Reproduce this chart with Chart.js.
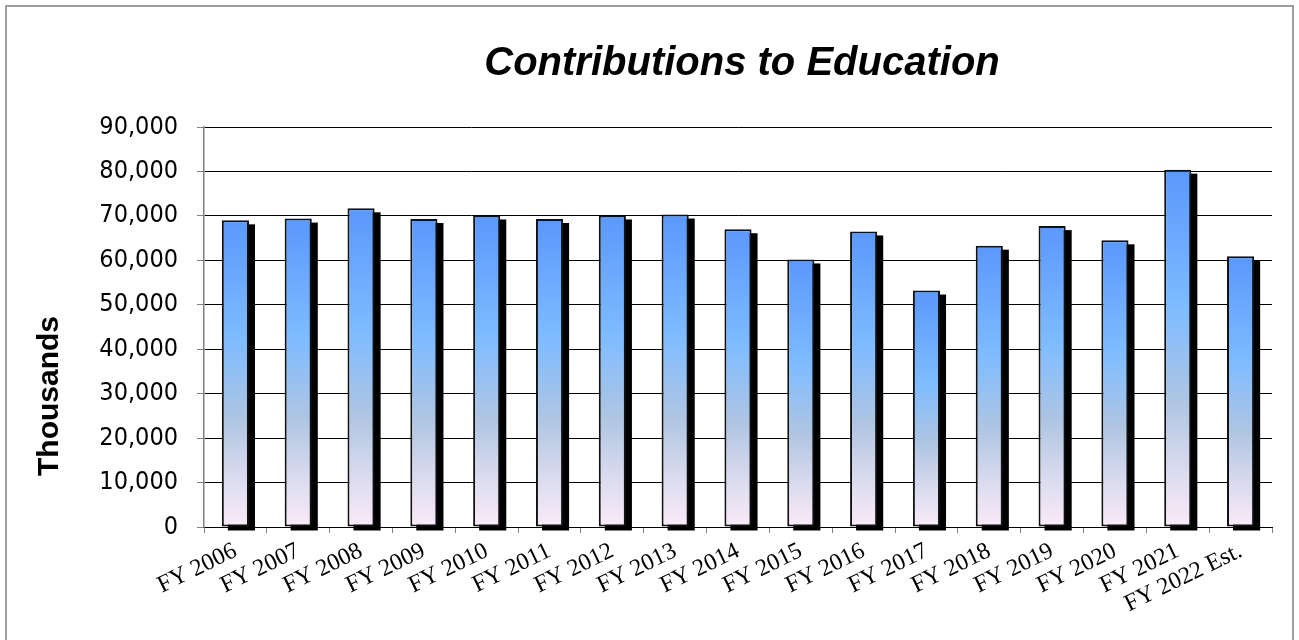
<!DOCTYPE html>
<html>
<head>
<meta charset="utf-8">
<script src="https://cdn.jsdelivr.net/npm/chart.js@4"></script>
<style>
  html, body { margin: 0; padding: 0; background: #fff; }
  #wrap { position: relative; width: 1299px; height: 640px; }
</style>
</head>
<body>
<div id="wrap"><canvas id="c"></canvas></div>
<script>
const categories = ["FY 2006","FY 2007","FY 2008","FY 2009","FY 2010","FY 2011","FY 2012","FY 2013","FY 2014","FY 2015","FY 2016","FY 2017","FY 2018","FY 2019","FY 2020","FY 2021","FY 2022 Est."];
const contributions = [69000,69400,71700,69300,70100,69300,70100,70300,67000,60200,66500,53200,63300,67700,64500,80400,60900];
const yTicks = [0,10000,20000,30000,40000,50000,60000,70000,80000,90000];
const chartTitle = "Contributions to Education";
const yAxisTitle = "Thousands";

function barGradient(ctx) {
  const chart = ctx.chart;
  if (!chart.chartArea || ctx.type !== 'data') return '#6aa8ff';
  const y = chart.scales.y;
  const top = y.getPixelForValue(ctx.parsed.y);
  const bottom = y.getPixelForValue(0);
  const g = chart.ctx.createLinearGradient(0, top, 0, bottom);
  g.addColorStop(0, '#5a98fc');
  g.addColorStop(0.4, '#80bcff');
  g.addColorStop(0.65, '#afc5e2');
  g.addColorStop(0.85, '#dcdcef');
  g.addColorStop(1, '#faeaf8');
  return g;
}

const frame = {
  id: 'frame',
  beforeDraw(chart) {
    const c = chart.ctx;
    c.save();
    c.fillStyle = '#fff';
    c.fillRect(0, 0, chart.width, chart.height);
    c.strokeStyle = '#808080';
    c.lineWidth = 1.5;
    c.strokeRect(6, 6, 1287, 700);
    c.restore();
  },
  beforeDatasetsDraw(chart) {
    const c = chart.ctx;
    const meta = chart.getDatasetMeta(0);
    c.save();
    c.fillStyle = '#000';
    meta.data.forEach(el => {
      const p = el.getProps(['x','y','base','width'], true);
      c.fillRect(p.x - p.width / 2 + 6, p.y + 4, p.width, p.base - p.y);
    });
    c.restore();
  },
  afterDraw(chart) {
    const c = chart.ctx;
    const a = chart.chartArea;
    c.save();
    c.fillStyle = '#000';
    c.textAlign = 'center';
    c.textBaseline = 'alphabetic';
    c.font = 'italic bold 40px "Liberation Sans", Arial, sans-serif';
    c.fillText(chartTitle, (a.left + a.right) / 2 + 4, 75);
    c.translate(50, 396);
    c.rotate(-Math.PI / 2);
    c.textBaseline = 'middle';
    c.font = 'bold 30px "Liberation Sans", Arial, sans-serif';
    c.fillText(yAxisTitle, 0, 0);
    c.restore();
  }
};

new Chart(document.getElementById('c'), {
  type: 'bar',
  data: {
    labels: categories,
    datasets: [{
      data: contributions,
      backgroundColor: barGradient,
      borderColor: '#111',
      borderWidth: 2,
      borderSkipped: false,
      barPercentage: 0.9,
      categoryPercentage: 0.48
    }]
  },
  options: {
    responsive: true,
    maintainAspectRatio: false,
    animation: false,
    layout: { padding: { top: 127, left: 0, right: 27, bottom: 0 } },
    plugins: { legend: { display: false }, title: { display: false }, tooltip: { enabled: false } },
    scales: {
      x: {
        afterFit(scale) { scale.height = 113; },
        grid: { display: true, drawOnChartArea: false, drawTicks: true, tickLength: 6, color: '#808080', offset: true },
        border: { display: true, color: '#000', width: 1 },
        ticks: {
          color: '#000',
          font: { family: '"Liberation Serif", "Times New Roman", serif', size: 24 },
          minRotation: 26, maxRotation: 26, autoSkip: false, padding: 4
        }
      },
      y: {
        min: 0, max: 90000,
        afterFit(scale) { scale.width = 204; },
        afterBuildTicks(scale) { scale.ticks = yTicks.map(v => ({ value: v })); },
        grid: { color: '#000', lineWidth: 1, tickLength: 7, tickColor: '#808080', drawTicks: true },
        border: { display: true, color: '#808080', width: 1.5 },
        ticks: {
          color: '#000',
          padding: 19,
          font: { family: '"DejaVu Sans Condensed", "DejaVu Sans", sans-serif', size: 25 },
          callback: v => v.toLocaleString('en-US')
        }
      }
    }
  },
  plugins: [frame]
});
</script>
</body>
</html>
